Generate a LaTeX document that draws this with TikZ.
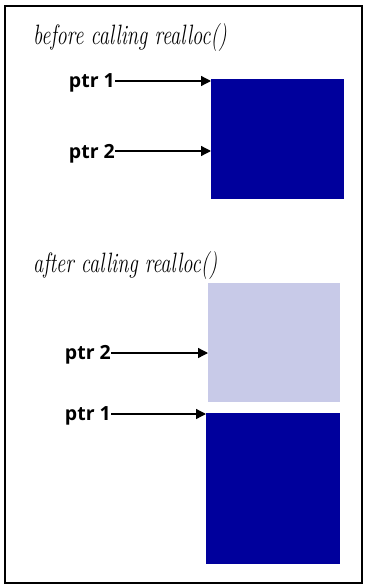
\documentclass[tikz,border=0pt]{standalone}
\usepackage{fontspec}
\setsansfont{Open Sans}
\usetikzlibrary{arrows.meta}
\definecolor{blockdark}{RGB}{0,0,156}
\definecolor{blocklight}{RGB}{200,202,232}
\newcommand{\ttlnarrow}[1]{\scalebox{0.73}[1]{#1}}
\tikzset{
  title/.style={anchor=base west, inner sep=0pt, font=\fontsize{28}{32}\selectfont\itshape},
  ptrlabel/.style={anchor=base east, inner sep=0pt, font=\sffamily\bfseries\fontsize{19.5}{23}\selectfont},
  ptrarrow/.style={line width=1.3pt, -{Triangle[length=10pt,width=10pt]}},
  block/.style={draw=none, inner sep=0pt, anchor=north west},
}
\begin{document}
\begin{tikzpicture}[x=1pt,y=-1pt]
\useasboundingbox (0,0) rectangle (368,586);
\draw[line width=1.2pt] (5,6) rectangle (362,583);
% before
\node[title] (t1) at (33,45) {\ttlnarrow{before calling realloc()}};
\node[block, fill=blockdark, minimum width=133pt, minimum height=120pt] (b1) at (211,79) {};
\node[ptrlabel] (p1) at (115,87) {ptr 1};
\node[ptrlabel] (p2) at (115,158) {ptr 2};
\coordinate (a1) at (115,81);
\coordinate (a2) at (115,151);
\draw[ptrarrow] (a1) -- (a1 -| b1.west);
\draw[ptrarrow] (a2) -- (a2 -| b1.west);
% after
\node[title] (t2) at (33,272) {\ttlnarrow{after calling realloc()}};
\node[block, fill=blocklight, minimum width=132pt, minimum height=119pt] (b2) at (208,283) {};
\node[block, fill=blockdark, minimum width=134pt, minimum height=151pt] (b3) at (206,413) {};
\node[ptrlabel] (p3) at (111,359) {ptr 2};
\node[ptrlabel] (p4) at (111,420) {ptr 1};
\coordinate (a3) at (111,353);
\coordinate (a4) at (111,414);
\draw[ptrarrow] (a3) -- (a3 -| b2.west);
\draw[ptrarrow] (a4) -- (a4 -| b3.west);
\end{tikzpicture}
\end{document}
